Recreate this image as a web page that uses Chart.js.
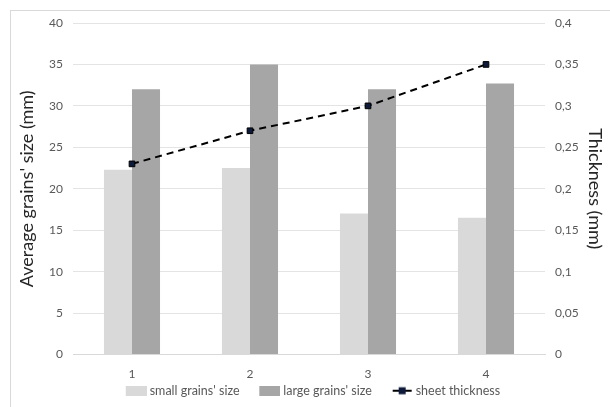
<!DOCTYPE html>
<html>
<head>
<meta charset="utf-8">
<script src="https://cdn.jsdelivr.net/npm/chart.js@4/dist/chart.umd.min.js"></script>
<style>
  html, body { margin: 0; padding: 0; background: #fff; }
  #wrap { width: 610px; height: 407px; position: relative; }
</style>
</head>
<body>
<div id="wrap"><canvas id="grainChart"></canvas></div>
<script>
// samples on x axis
const categories = ['1', '2', '3', '4'];

// grain sizes (mm), left axis
const smallGrains = [22.3, 22.5, 17.0, 16.5];
const largeGrains = [32.0, 35.0, 32.0, 32.7];

// sheet thickness (mm), right axis
const sheetThickness = [0.23, 0.27, 0.30, 0.35];

const FONT = 'Lato, "Open Sans", sans-serif';
const TICK_COLOR = '#595959';

// legend swatches: wide canvas, sample pushed to the right edge
// so the gap to the label stays small and the gap between items grows
function swatchBox(color) {
  const c = document.createElement('canvas');
  c.width = 40; c.height = 10;
  const g = c.getContext('2d');
  g.fillStyle = color;
  g.fillRect(19, 0, 21, 10);
  return c;
}
function swatchLine() {
  const c = document.createElement('canvas');
  c.width = 40; c.height = 10;
  const g = c.getContext('2d');
  g.strokeStyle = '#000';
  g.lineWidth = 2;
  g.beginPath(); g.moveTo(20, 5); g.lineTo(39, 5); g.stroke();
  g.fillStyle = '#0d1a3a';
  g.fillRect(26, 1.5, 7, 7);
  return c;
}

// thin frame round the whole figure
const framePlugin = {
  id: 'frame',
  afterDraw(chart) {
    const ctx = chart.ctx;
    ctx.save();
    ctx.strokeStyle = '#d9d9d9';
    ctx.lineWidth = 1;
    ctx.strokeRect(10.5, 10.5, 620, 420);
    ctx.restore();
  },
};

const chart = new Chart(document.getElementById('grainChart'), {
  data: {
    labels: categories,
    datasets: [
      {
        type: 'bar',
        label: "small grains' size",
        data: smallGrains,
        backgroundColor: '#d9d9d9',
        yAxisID: 'y',
        order: 1,
      },
      {
        type: 'bar',
        label: "large grains' size",
        data: largeGrains,
        backgroundColor: '#a6a6a6',
        yAxisID: 'y',
        order: 1,
      },
      {
        type: 'line',
        label: 'sheet thickness',
        data: sheetThickness,
        yAxisID: 'y1',
        borderColor: '#000',
        borderWidth: 2,
        borderDash: [7, 5],
        pointStyle: 'rect',
        pointRadius: 4,
        pointBackgroundColor: '#0d1a3a',
        pointBorderColor: '#000',
        pointBorderWidth: 1,
        fill: false,
        tension: 0,
        order: 0,
      },
    ],
  },
  options: {
    responsive: true,
    maintainAspectRatio: false,
    animation: false,
    layout: { padding: { top: 23, bottom: 0 } },
    datasets: {
      bar: { categoryPercentage: 0.475, barPercentage: 1.0 },
    },
    plugins: {
      tooltip: { enabled: false },
      legend: {
        position: 'bottom',
        labels: {
          color: TICK_COLOR,
          font: { family: FONT, size: 12.5 },
          usePointStyle: true,
          pointStyleWidth: 33.5,
          padding: 4,
          generateLabels: (c) => c.data.datasets.map((ds, i) => ({
            text: ds.label,
            pointStyle: ds.type === 'line' ? swatchLine() : swatchBox(ds.backgroundColor),
            datasetIndex: i,
            fontColor: TICK_COLOR,
            lineWidth: 0,
            hidden: false,
          })),
        },
      },
    },
    scales: {
      x: {
        grid: { display: false, drawTicks: false },
        border: { color: '#d9d9d9' },
        ticks: { color: TICK_COLOR, font: { family: FONT, size: 12 }, padding: 12 },
        afterFit: (s) => { s.height = 26; },
      },
      y: {
        position: 'left',
        min: 0,
        max: 40,
        ticks: { stepSize: 5, color: TICK_COLOR, font: { family: FONT, size: 12 }, padding: 10 },
        grid: { color: '#e4e4e4', drawTicks: false },
        border: { display: false },
        title: {
          display: true,
          text: "Average grains' size (mm)",
          color: '#262626',
          font: { family: FONT, size: 18 },
          padding: { top: 16, bottom: 0 },
        },
        afterFit: (s) => { s.width = 73; },
      },
      y1: {
        position: 'right',
        min: 0,
        max: 0.4,
        ticks: {
          stepSize: 0.05,
          color: TICK_COLOR,
          font: { family: FONT, size: 12 },
          padding: 10,
          callback: (v) => String(Math.round(v * 100) / 100).replace('.', ','),
        },
        grid: { display: false, drawTicks: false },
        border: { display: false },
        title: {
          display: true,
          text: 'Thickness (mm)',
          color: '#262626',
          font: { family: FONT, size: 18 },
        },
        afterFit: (s) => { s.width = 65; },
      },
    },
  },
  plugins: [framePlugin],
});
</script>
</body>
</html>
